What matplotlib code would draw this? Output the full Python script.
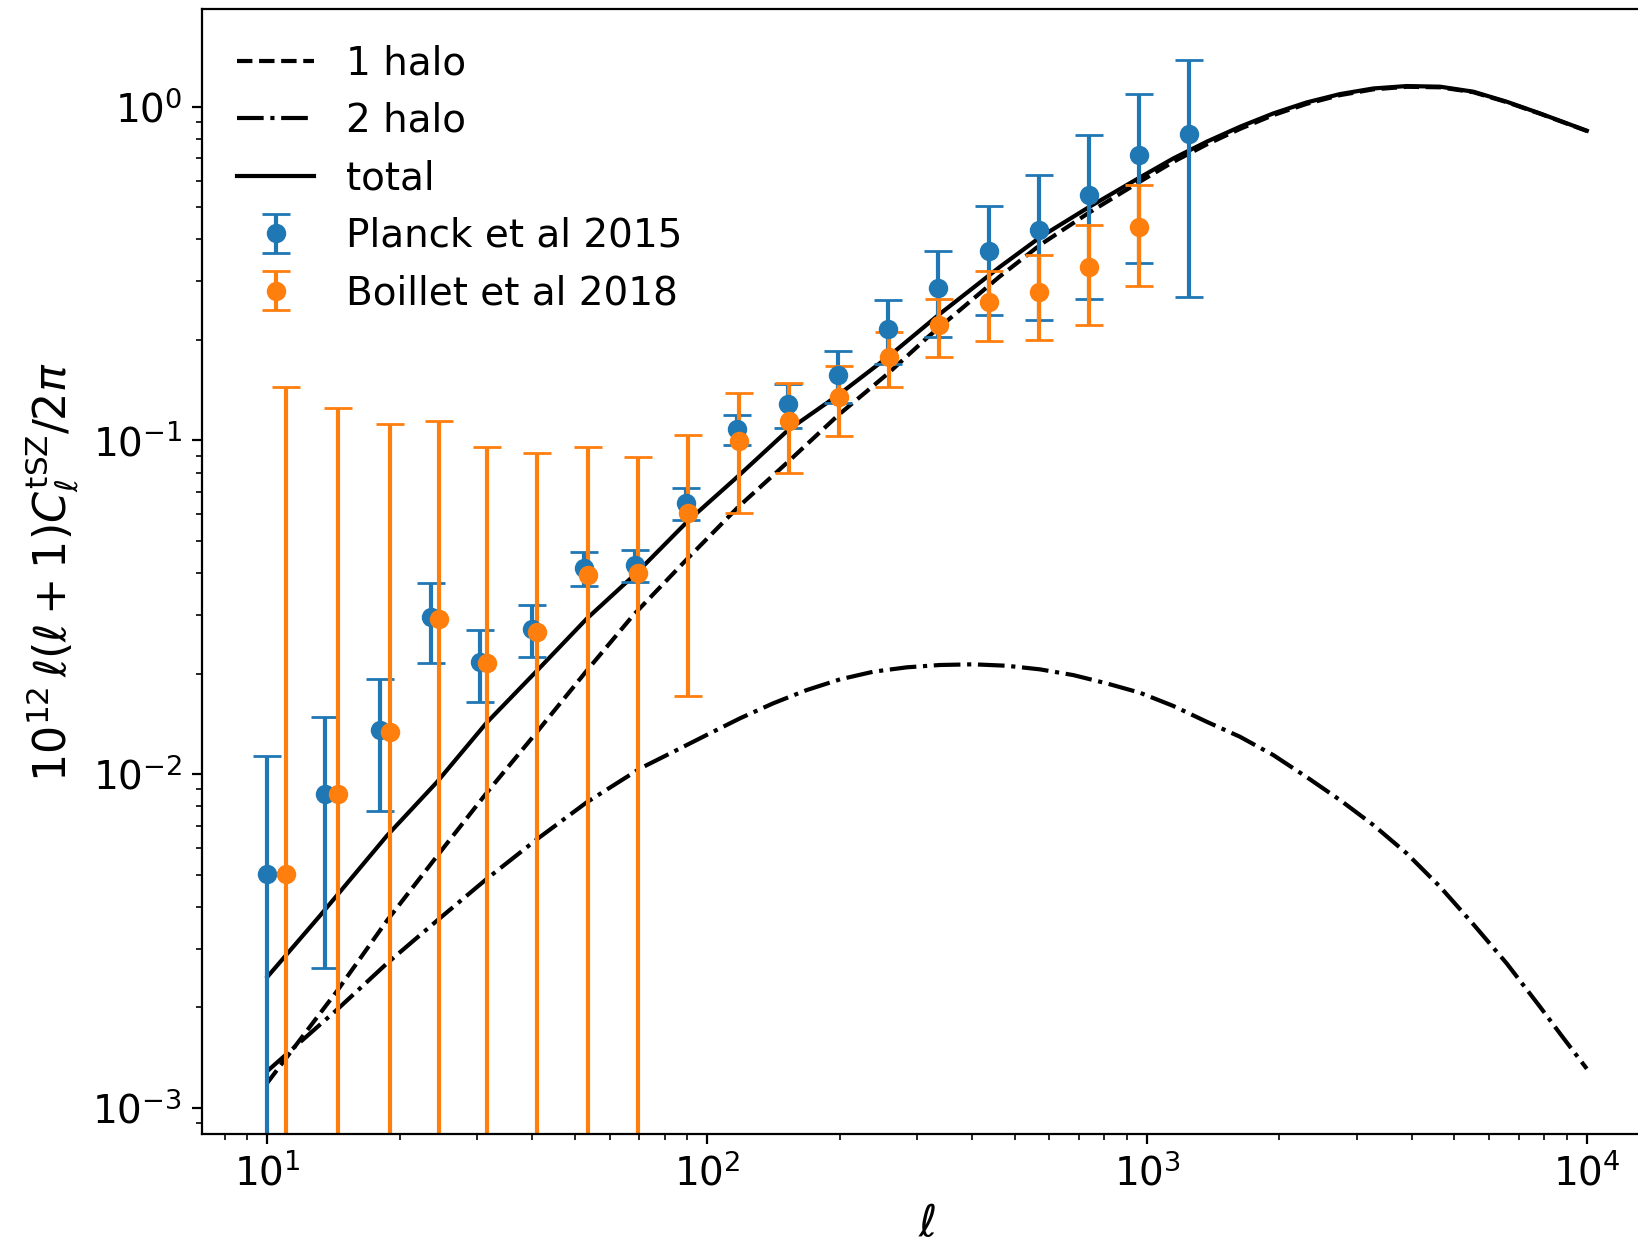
import matplotlib
matplotlib.use("Agg")
import matplotlib.pyplot as plt

# model curves
ell_one = [10, 14.4, 18.7, 24.3, 31.5, 41, 53.2, 68, 90.6, 117.7, 152.8, 198.6,
           258, 318, 463, 573, 740, 964, 1148, 1367, 1627, 1938, 2307, 2748,
           3270, 3894, 4636, 5520, 6573, 7824, 10000]
one_halo = [0.00119, 0.00224, 0.00364, 0.00568, 0.00878, 0.01337, 0.0204, 0.0300,
            0.0445, 0.0632, 0.0863, 0.119, 0.1588, 0.2043, 0.310, 0.386, 0.482,
            0.596, 0.683, 0.770, 0.857, 0.943, 1.019, 1.082, 1.126, 1.146, 1.142,
            1.104, 1.031, 0.952, 0.845]

ell_two = [10, 14.4, 18.7, 24.3, 31.5, 41, 53.2, 70.4, 83.8, 99.7, 118.8, 141.3,
           168.4, 200.5, 238.6, 284.2, 338.1, 402.7, 479.7, 571, 680, 809.5, 964,
           1148, 1367, 1627, 1938, 2307, 2748, 3270, 3894, 4636, 5520, 6573, 7824,
           8812, 10000]
two_halo = [0.00129, 0.00197, 0.00271, 0.00364, 0.00485, 0.00638, 0.00823, 0.0104,
            0.01167, 0.0131, 0.0147, 0.0163, 0.01786, 0.01923, 0.02027, 0.02089,
            0.02123, 0.02133, 0.02112, 0.0206, 0.0198, 0.0187, 0.01753, 0.0160,
            0.01435, 0.01294, 0.0114, 0.0098, 0.00836, 0.00704, 0.00579, 0.0046,
            0.00355, 0.00271, 0.00201, 0.00163, 0.00131]

ell_tot = [10, 13.2, 18.7, 24.3, 31.5, 41, 53.2, 69, 90.6, 117.7, 152.8, 198.6,
           258, 335, 463, 573, 740, 964, 1148, 1367, 1627, 1938, 2307, 2748, 3270,
           3894, 4636, 5520, 6573, 7824, 10000]
total = [0.00247, 0.00378, 0.00654, 0.00947, 0.01425, 0.0204, 0.0292, 0.0400,
         0.0575, 0.0782, 0.1074, 0.1367, 0.178, 0.237, 0.331, 0.407, 0.501, 0.6136,
         0.6994, 0.7847, 0.870, 0.954, 1.029, 1.090, 1.133, 1.152, 1.147, 1.108,
         1.034, 0.954, 0.8465]

# Planck et al 2015
ell_planck = [10, 13.5, 18, 23.5, 30.5, 40, 52.5, 68.5, 89.5, 117, 152.5, 198,
              257.5, 335.5, 436.5, 567.5, 738, 959.5, 1247.5]
cl_planck = [0.00503, 0.00873, 0.01353, 0.0295, 0.0217, 0.0273, 0.0414, 0.0423,
             0.0648, 0.1078, 0.1285, 0.157, 0.216, 0.287, 0.370, 0.4266, 0.543,
             0.7156, 0.8254]
err_planck = [0.0063, 0.0061, 0.0058, 0.0080, 0.0053, 0.0049, 0.0048, 0.0047,
              0.0072, 0.011, 0.0195, 0.028, 0.047, 0.083, 0.133, 0.197, 0.277,
              0.376, 0.557]

# Boillet et al 2018
ell_boillet = [11, 14.5, 19, 24.5, 31.5, 41, 53.5, 69.5, 90.5, 118, 153.5, 199,
               258.5, 336.5, 437.5, 568.5, 739, 960.5]
cl_boillet = [0.00503, 0.00873, 0.01335, 0.0291, 0.02156, 0.02663, 0.03955, 0.0400,
              0.0604, 0.0995, 0.1145, 0.135, 0.178, 0.2215, 0.2602, 0.2789, 0.3311,
              0.4365]
err_boillet = [0.139, 0.116, 0.0985, 0.085, 0.0738, 0.0648, 0.0558, 0.0493,
               0.0433, 0.039, 0.0345, 0.032, 0.0335, 0.0435, 0.0615, 0.0791, 0.11,
               0.147]

fig = plt.figure(figsize=(8.19, 6.215), dpi=200)
ax = fig.add_axes([0.1231, 0.0873, 0.8858, 0.9051])

ax.plot(ell_one, one_halo, "k--", label="1 halo")
ax.plot(ell_two, two_halo, "k-.", label="2 halo")
ax.plot(ell_tot, total, "k-", label="total")
ax.errorbar(ell_planck, cl_planck, yerr=err_planck, fmt="o", capsize=5,
            label="Planck et al 2015")
ax.errorbar(ell_boillet, cl_boillet, yerr=err_boillet, fmt="o", capsize=5,
            label="Boillet et al 2018")

ax.set_xscale("log")
ax.set_yscale("log")
ax.set_xlim(7.087, 14110)
ax.set_ylim(8.325e-4, 1.954)
ax.tick_params(labelsize=14)
ax.set_xlabel(r"$\ell$", fontsize=16, labelpad=3)
ax.set_ylabel(r"$10^{12}\,\ell(\ell+1)C_\ell^{\rm tSZ}/2\pi$", fontsize=16)
ax.legend(loc="upper left", frameon=False, fontsize=14)

fig.savefig("out.png", dpi=200)
